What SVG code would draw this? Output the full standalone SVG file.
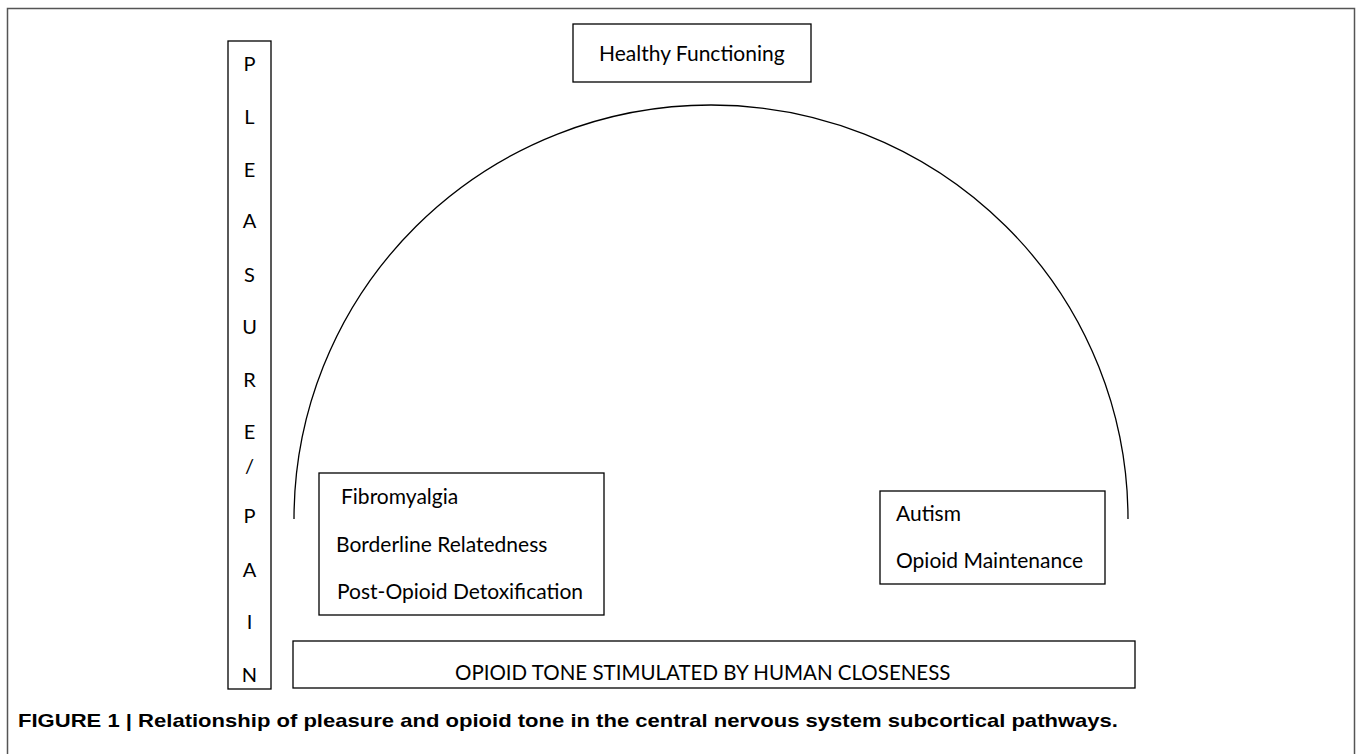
<svg xmlns="http://www.w3.org/2000/svg" width="1358" height="754" viewBox="0 0 1358 754">
<style>
.box{fill:#fff;stroke:#000;stroke-width:1.3}
.t{font-family:Lato,"Open Sans","Liberation Sans",sans-serif;font-size:21px;fill:#000}
.v{font-family:Lato,"Open Sans","Liberation Sans",sans-serif;font-size:20px;fill:#000;text-anchor:middle}
.cap{font-family:"Liberation Sans",Arial,sans-serif;font-size:19px;font-weight:bold;fill:#000}
</style>
<rect x="0" y="0" width="1358" height="754" fill="#fff"/>
<rect x="7.5" y="8.5" width="1347" height="760" fill="none" stroke="#555" stroke-width="1.5"/>
<g id="connectors">
<path d="M 294 519 A 417 414 0 0 1 1128 519" fill="none" stroke="#000" stroke-width="1.3"/>
</g>
<g id="pleasure-pain">
<rect class="box" x="228" y="41" width="43" height="648"/>
<text class="v" x="249.5" y="71">P</text>
<text class="v" x="249.5" y="124">L</text>
<text class="v" x="249.5" y="177">E</text>
<text class="v" x="249.5" y="228">A</text>
<text class="v" x="249.5" y="282">S</text>
<text class="v" x="249.5" y="334">U</text>
<text class="v" x="249.5" y="387">R</text>
<text class="v" x="249.5" y="439">E</text>
<text class="v" x="249.5" y="473">/</text>
<text class="v" x="249.5" y="523">P</text>
<text class="v" x="249.5" y="577">A</text>
<text class="v" x="249.5" y="629">I</text>
<text class="v" x="249.5" y="682">N</text>
</g>
<g id="healthy">
<rect class="box" x="573" y="24" width="238" height="58"/>
<text class="t" x="599" y="61">Healthy Functioning</text>
</g>
<g id="fibromyalgia">
<rect class="box" x="319" y="473" width="285" height="142"/>
<text class="t" x="341" y="504">Fibromyalgia</text>
<text class="t" x="336" y="552">Borderline Relatedness</text>
<text class="t" x="337" y="599">Post-Opioid Detoxification</text>
</g>
<g id="autism">
<rect class="box" x="880" y="491" width="225" height="93"/>
<text class="t" x="896" y="521">Autism</text>
<text class="t" x="896" y="568">Opioid Maintenance</text>
</g>
<g id="opioid-tone">
<rect class="box" x="293" y="641" width="842" height="47"/>
<text class="t" x="455" y="680" style="font-size:20.5px">OPIOID TONE STIMULATED BY HUMAN CLOSENESS</text>
</g>
<text class="cap" x="18" y="727" textLength="1100" lengthAdjust="spacingAndGlyphs">FIGURE 1 | Relationship of pleasure and opioid tone in the central nervous system subcortical pathways.</text>
</svg>
